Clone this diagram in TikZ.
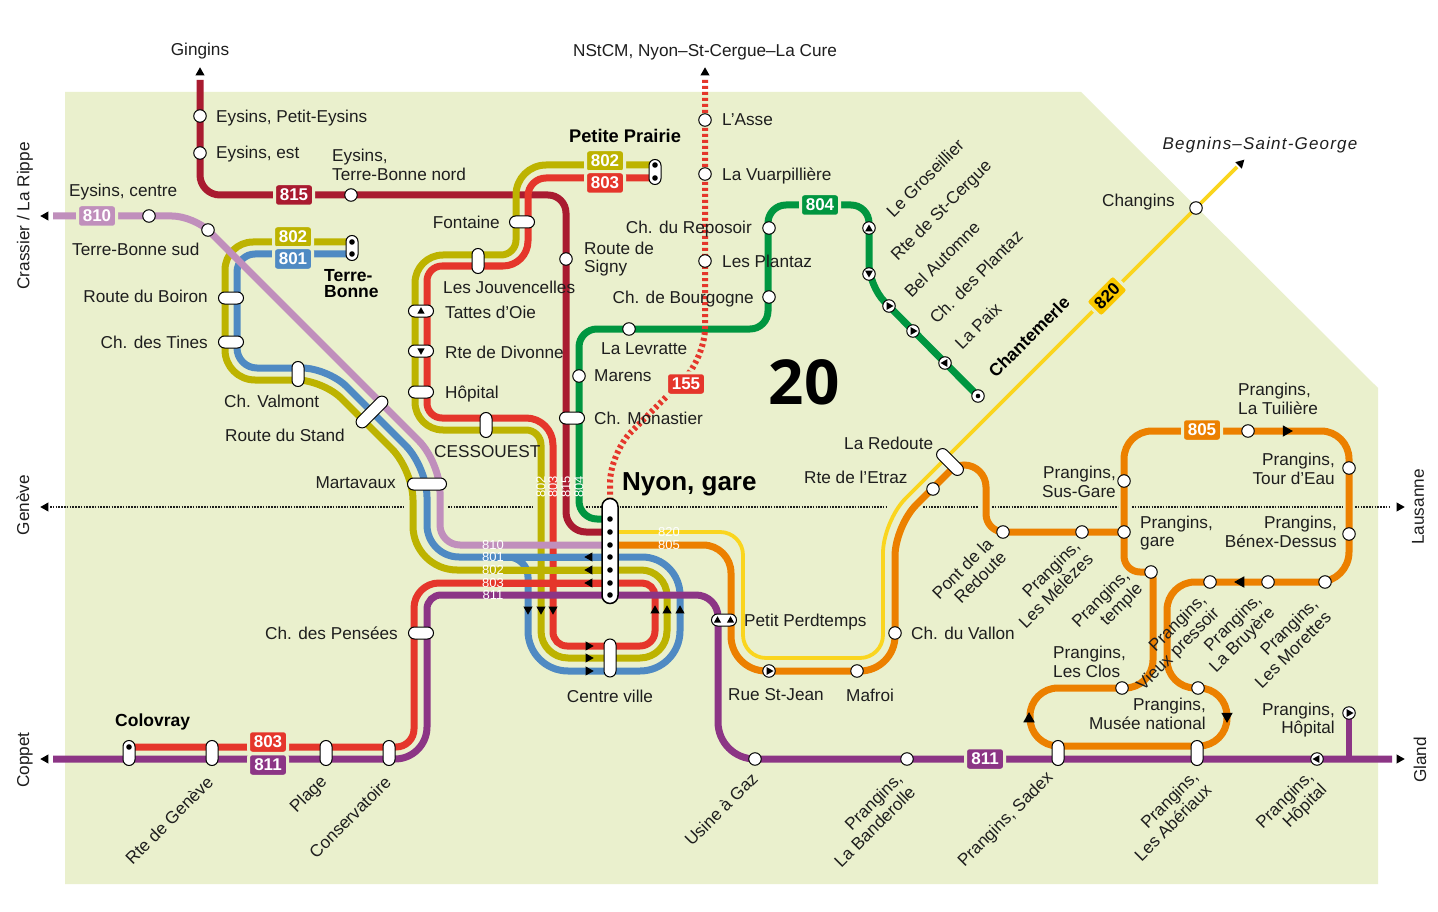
\documentclass[tikz,border=0pt]{standalone}
\usepackage{fontspec}
\setmainfont{Liberation Sans}
\newfontfamily\bignum{Open Sans}
\usepackage{tikz}
\usetikzlibrary{shapes.misc}

\definecolor{bggreen}{RGB}{234,240,205}
\definecolor{c810}{RGB}{192,143,188}
\definecolor{c801}{RGB}{79,138,195}
\definecolor{c802}{RGB}{189,179,0}
\definecolor{c803}{RGB}{229,54,43}
\definecolor{c811}{RGB}{140,53,133}
\definecolor{c815}{RGB}{169,27,48}
\definecolor{c804}{RGB}{0,150,64}
\definecolor{c805}{RGB}{236,128,0}
\definecolor{c820}{RGB}{250,213,30}
\definecolor{c820b}{RGB}{250,200,0}
\definecolor{inkc}{RGB}{30,30,30}

\tikzset{
  bus/.style={line width=7pt},
  stop/.style={circle,draw=black,fill=white,line width=1pt,inner sep=0pt,minimum size=12.5pt},
  pill/.style={rounded rectangle,draw=black,fill=white,line width=1pt,inner sep=0pt,minimum height=12pt,minimum width=#1},
  badge/.style={fill=#1,draw=bggreen,line width=3pt,rounded corners=3.5pt,text=white,inner sep=0pt,
    minimum width=39pt,minimum height=22.5pt,font=\fontsize{17}{19}\selectfont\bfseries},
  mini/.style={text=white,inner sep=0pt,font=\fontsize{13}{13}\selectfont},
  lab/.style={inner sep=0pt,text=inkc,font=\fontsize{17.2}{18.8}\selectfont},
  blab/.style={inner sep=0pt,text=black,font=\fontsize{17.5}{16}\selectfont\bfseries},
  diag/.style={lab,rotate=45,align=right},
  dotted line/.style={line width=1.6pt,dash pattern=on 1.6pt off 1.2pt,draw=inkc}
}

% small black triangle, 0 points up
\newcommand{\tip}[4][1]{\fill[black,shift={(#2,#3)},rotate=#4,scale=#1] (0,-4.7) -- (-4.6,3.4) -- (4.6,3.4) -- cycle;}
\newcommand{\dotat}[2]{\fill[black] (#1,#2) circle (2.8pt);}

\begin{document}
\begin{tikzpicture}[x=1pt,y=-1pt]
\useasboundingbox (0,0) rectangle (1438,912);
\fill[white] (0,0) rectangle (1438,912);
\fill[bggreen] (65,92) -- (1081,92) -- (1378,388) -- (1378,884) -- (65,884) -- cycle;

%dotted middle line
\draw[dotted line] (50,507) -- (405,507);
\draw[dotted line] (448,507) -- (533,507);
\draw[dotted line] (586,507) -- (888,507);
\draw[dotted line] (923,507) -- (978,507);
\draw[dotted line] (992,507) -- (1118,507);
\draw[dotted line] (1132,507) -- (1343,507);
\draw[dotted line] (1355,507) -- (1391,507);

%line 815
\draw[bus,c815] (200,80) [rounded corners=20pt] -- (200,195) [rounded corners=18pt] -- (566,195) [rounded corners=20pt] -- (566,532) -- (610,532);

%line 804
\draw[bus,c804] (610,519) [rounded corners=18pt] -- (579,519) -- (579,329) -- (768,329) -- (768,205) -- (869,205) [rounded corners=22pt] -- (869,286) -- (978,396);

%line 155
\draw[c803,line width=6pt,dash pattern=on 3pt off 3pt] (705,80) [rounded corners=30pt] -- (705,358) -- (610,453) -- (610,500);

%line 820
\draw[c820,line width=3.8pt] (610,532) [rounded corners=23pt] -- (743,532) -- (743,658) -- (883,658) [rounded corners=32pt] -- (883,521) -- (1237,167);

%line 805
\draw[bus,c805] (610,545) [rounded corners=28pt] -- (731,545) [rounded corners=35pt] -- (731,671) -- (895,671) [rounded corners=30pt] -- (895,526) [rounded corners=8pt] -- (956,465) [rounded corners=22pt] -- (986,465) [rounded corners=18pt] -- (986,532) -- (1124,532);
\draw[bus,c805] (1124,532) [rounded corners=28pt] -- (1124,431) -- (1349,431) [rounded corners=30pt] -- (1349,582) [rounded corners=28pt] -- (1167,582) -- (1167,688) -- (1227,688) -- (1227,746) -- (1030,746) -- (1030,688) -- (1153,688) [rounded corners=6pt] -- (1153,572) [rounded corners=16pt] -- (1124,572) -- (1124,532);

%line 802
\draw[bus,c802] (655,165) [rounded corners=30pt] -- (516,165) [rounded corners=15pt] -- (516,255) [rounded corners=28pt] -- (415,255) -- (415,430) [rounded corners=15pt] -- (541,430) [rounded corners=27pt] -- (541,658) -- (667,658) [rounded corners=26pt] -- (667,570) [rounded corners=44pt] -- (413,570) [rounded corners=30pt] -- (413,470) [rounded corners=26pt] -- (323,380) [rounded corners=30pt] -- (225,380) [rounded corners=28pt] -- (225,242) -- (352,242);

%line 801
\draw[bus,c801] (352,254) [rounded corners=18pt] -- (237,254) [rounded corners=20pt] -- (237,368) [rounded corners=26pt] -- (328,368) [rounded corners=30pt] -- (427,467) [rounded corners=32pt] -- (427,557) [rounded corners=38pt] -- (680,557) [rounded corners=40pt] -- (680,671) -- (528,671) [rounded corners=20pt] -- (528,557) -- (495,557);

%line 803
\draw[bus,c803] (655,178) [rounded corners=18pt] -- (528,178) [rounded corners=25pt] -- (528,266) [rounded corners=15pt] -- (427,266) -- (427,418) [rounded corners=27pt] -- (553,418) [rounded corners=14pt] -- (553,646) [rounded corners=15pt] -- (655,646) [rounded corners=13pt] -- (655,583) [rounded corners=25pt] -- (414,583) [rounded corners=18pt] -- (414,747) -- (129,747);

%line 810
\draw[bus,c810] (53,216) [rounded corners=22pt] -- (194,216) [rounded corners=30pt] -- (440,462) [rounded corners=20pt] -- (440,545) -- (610,545);

%horizontals again, they lie over the verticals
\draw[bus,c801] (490,557) -- (610,557);
\draw[bus,c802] (490,570) -- (610,570);
\draw[bus,c803] (490,583) -- (610,583);

%line 811
\draw[bus,c811] (53,759) [rounded corners=32pt] -- (427,759) [rounded corners=14pt] -- (427,595) [rounded corners=22pt] -- (718,595) [rounded corners=37pt] -- (718,759) -- (1392,759);
\draw[line width=6pt,c811] (1349,759) -- (1349,713);

%arrows at the ends
\tip{200}{72}{0}
\tip{705}{72}{0}
\tip{45}{216}{90}
\tip{45}{759}{90}
\tip{45}{507}{90}
\tip{1400}{507}{-90}
\tip{1400}{759}{-90}
\tip{1241}{163}{-45}

%arrows on the lines
\tip{589}{557}{90}
\tip{589}{570}{90}
\tip{589}{583}{90}
\tip{528}{610}{180}
\tip{541}{610}{180}
\tip{553}{610}{180}
\tip{655}{610}{0}
\tip{667}{610}{0}
\tip{680}{610}{0}
\tip{589}{646}{-90}
\tip{589}{658}{-90}
\tip{589}{671}{-90}
\tip[1.25]{1287}{431}{-90}
\tip[1.25]{1240}{582}{90}
\tip[1.25]{1029}{718}{0}
\tip[1.25]{1227}{717}{180}

%plain stops
\node[stop] (petiteysins) at (200,116) {};
\node[stop] (eysinsest) at (200,153) {};
\node[stop] (eysinsnord) at (351,195) {};
\node[stop] (eysinscentre) at (149,216) {};
\node[stop] (bonnesud) at (208,230) {};
\node[stop] (signy) at (566,259) {};
\node[stop] (asse) at (705,120) {};
\node[stop] (vuarpilliere) at (705,174) {};
\node[stop] (reposoir) at (769,228) {};
\node[stop] (plantaz) at (705,261) {};
\node[stop] (bourgogne) at (769,297) {};
\node[stop] (levratte) at (629,329) {};
\node[stop] (marens) at (579,376) {};
\node[stop] (changins) at (1196,208) {};
\node[stop] (etraz) at (933,489) {};
\node[stop] (pontredoute) at (1003,532) {};
\node[stop] (melezes) at (1082,532) {};
\node[stop] (susgare) at (1124,481) {};
\node[stop] (pranginsgare) at (1124,532) {};
\node[stop] (toureau) at (1349,468) {};
\node[stop] (benex) at (1349,534) {};
\node[stop] (tuiliere) at (1248,431) {};
\node[stop] (temple) at (1151,572) {};
\node[stop] (pressoir) at (1210,582) {};
\node[stop] (bruyere) at (1268,582) {};
\node[stop] (morettes) at (1325,582) {};
\node[stop] (clos) at (1122,688) {};
\node[stop] (musee) at (1198,688) {};
\node[stop] (mafroi) at (857,671) {};
\node[stop] (vallon) at (895,633) {};
\node[stop] (gaz) at (755,759) {};
\node[stop] (banderolle) at (907,759) {};

%stops with an arrow
\node[stop] (groseillier) at (869,228) {};
\tip[0.85]{869}{228.5}{0}
\node[stop] (stcergue) at (869,274) {};
\tip[0.85]{869}{273.5}{180}
\node[stop] (belautomne) at (889,306) {};
\tip[0.85]{889.5}{306}{-90}
\node[stop] (chplantaz) at (913,331) {};
\tip[0.85]{913.5}{331}{-90}
\node[stop] (lapaix) at (945,363) {};
\tip[0.85]{944.5}{363}{90}
\node[stop] (stjean) at (769,671) {};
\tip[0.85]{769.5}{671}{-90}
\node[stop] (hopitala) at (1317,759) {};
\tip[0.85]{1316.5}{759}{90}
\node[stop] (hopitalb) at (1349,713) {};
\tip[0.85]{1349.5}{713}{-90}
\node[stop] (chantemerle) at (978,396) {};
\fill[black] (978,396) circle (2.3pt);

%pills, horizontal
\node[pill=25pt] (boiron) at (231,298) {};
\node[pill=25pt] (tines) at (231,342) {};
\node[pill=25pt] (fontaine) at (522,222) {};
\node[pill=25pt] (tattes) at (421,311) {};
\tip[0.8]{421}{311}{0}
\node[pill=25pt] (divonne) at (421,351) {};
\tip[0.8]{421}{351}{180}
\node[pill=25pt] (hopital) at (421,392) {};
\node[pill=25pt] (monastier) at (572,418) {};
\node[pill=39pt] (martavaux) at (427,484) {};
\node[pill=25pt] (pensees) at (421,633) {};
\node[pill=25pt] (perdtemps) at (724,620) {};
\tip[0.8]{717.5}{620}{0}
\tip[0.8]{730.5}{620}{0}

%pills, vertical and slanted
\node[pill=25pt,rotate=90] (valmont) at (298,374) {};
\node[pill=25pt,rotate=90] (jouvencelles) at (478,261) {};
\node[pill=25pt,rotate=90] (cessouest) at (486,425) {};
\node[pill=25pt,rotate=90] (colovray) at (129,753) {};
\dotat{129}{747}
\node[pill=25pt,rotate=90] (rtegeneve) at (212,753) {};
\node[pill=25pt,rotate=90] (plage) at (326,753) {};
\node[pill=25pt,rotate=90] (conservatoire) at (389,753) {};
\node[pill=25pt,rotate=90] (sadex) at (1058,753) {};
\node[pill=25pt,rotate=90] (aberiaux) at (1197,753) {};
\node[pill=38pt,rotate=90] (centreville) at (610,658) {};
\node[pill=40pt,rotate=45] (stand) at (372,412) {};
\node[pill=33pt,rotate=-45] (laredoute) at (950,462) {};

%terminus pills with dots
\node[pill=25pt,rotate=90] (terrebonne) at (352,248) {};
\dotat{352}{242}
\dotat{352}{254}
\node[pill=25pt,rotate=90] (petiteprairie) at (655,172) {};
\dotat{655}{165}
\dotat{655}{178}
\node[pill=105pt,minimum height=16pt,line width=1.5pt,rotate=90] (nyongare) at (610,551) {};
\dotat{610}{519}
\dotat{610}{532}
\dotat{610}{545}
\dotat{610}{557}
\dotat{610}{570}
\dotat{610}{583}
\dotat{610}{595}

%line numbers
\node[badge=c815] (n815) at (294,195) {815};
\node[badge=c810] (n810) at (97,216) {810};
\node[badge=c802] (n802a) at (293,237) {802};
\node[badge=c801] (n801) at (293,259) {801};
\node[badge=c802] (n802b) at (605,161) {802};
\node[badge=c803] (n803a) at (605,183) {803};
\node[badge=c804] (n804) at (820,205) {804};
\node[badge=c805] (n805) at (1202,430) {805};
\node[badge=c811] (n811a) at (985,759) {811};
\node[badge=c803] (n803b) at (268,742) {803};
\node[badge=c811] (n811b) at (268,765) {811};
\node[badge=c803] (n155) at (686,384) {155};
\node[badge=c820b,text=black,rotate=45] (n820) at (1107,296) {820};

%small numbers on the lines
\node[mini] (m810) at (493,545) {810};
\node[mini] (m801) at (493,557) {801};
\node[mini] (m802) at (493,570) {802};
\node[mini] (m803) at (493,583) {803};
\node[mini] (m811) at (493,595) {811};
\node[mini] (m820) at (669,532) {820};
\node[mini] (m805) at (669,545) {805};
\node[mini,rotate=90] (v802) at (541,487) {802};
\node[mini,rotate=90] (v803) at (553,487) {803};
\node[mini,rotate=90] (v815) at (566,487) {815};
\node[mini,rotate=90] (v804) at (579,487) {804};

%outside the area
\node[lab] (tgingins) at (200,51) {Gingins};
\node[lab] (tnstcm) at (705,52) {NStCM, Nyon–St-Cergue–La Cure};
\node[lab,font=\fontsize{17}{19}\selectfont\itshape\addfontfeature{LetterSpace=7}] (tbegnins) at (1260,145) {Begnins–Saint-George};
\node[lab,rotate=90] (trippe) at (25,216) {Crassier / La Rippe};
\node[lab,rotate=90] (tgeneve) at (23,505) {Genève};
\node[lab,rotate=90] (tcoppet) at (25,760) {Coppet};
\node[lab,rotate=90] (tlausanne) at (1418,507) {Lausanne};
\node[lab,rotate=90] (tgland) at (1420,760) {Gland};

%west part
\node[lab,anchor=west] (tpetiteysins) at (216,118) {Eysins, Petit-Eysins};
\node[lab,anchor=west] (teysinsest) at (216,154.5) {Eysins, est};
\node[lab,anchor=west,align=left] (teysinsnord) at (332,165) {Eysins,\\Terre-Bonne nord};
\node[lab,anchor=west] (teysinscentre) at (69,192) {Eysins, centre};
\node[lab,anchor=west] (tbonnesud) at (72,249) {Terre-Bonne sud};
\node[lab,anchor=east] (tboiron) at (208,296) {Route du Boiron};
\node[lab,anchor=east] (ttines) at (208,342) {Ch. des Tines};
\node[blab,anchor=west,align=left] (tterrebonne) at (324,284) {Terre-\\Bonne};
\node[lab,anchor=west] (tvalmont) at (224,401) {Ch. Valmont};
\node[lab,anchor=west] (tstand) at (225,435) {Route du Stand};
\node[lab,anchor=east] (tmartavaux) at (396,483) {Martavaux};
\node[lab,anchor=east] (tpensees) at (398,633) {Ch. des Pensées};
\node[blab,anchor=west] (tcolovray) at (115,722) {Colovray};
\node[lab,rotate=45] (trtegeneve) at (169,820) {Rte de Genève};
\node[lab,rotate=45] (tplage) at (309,795) {Plage};
\node[lab,rotate=45] (tconservatoire) at (350,817) {Conservatoire};

%middle part
\node[blab,font=\fontsize{18.3}{19}\selectfont\bfseries] (tpetiteprairie) at (625,136) {Petite Prairie};
\node[lab,anchor=east] (tfontaine) at (500,222) {Fontaine};
\node[lab,anchor=west] (tjouvencelles) at (443,287) {Les Jouvencelles};
\node[lab,anchor=west] (ttattes) at (445,312) {Tattes d’Oie};
\node[lab,anchor=west] (tdivonne) at (445,352) {Rte de Divonne};
\node[lab,anchor=west] (thopital) at (445,394) {Hôpital};
\node[lab,anchor=west] (tcessouest) at (434,452) {CESSOUEST};
\node[lab,anchor=west,align=left] (tsigny) at (584,259) {Route de\\Signy};
\node[lab,anchor=west] (tasse) at (722,120) {L’Asse};
\node[lab,anchor=west] (tvuarpilliere) at (722,176) {La Vuarpillière};
\node[lab,anchor=east] (treposoir) at (752,229) {Ch. du Reposoir};
\node[lab,anchor=west] (tplantaz) at (722,261) {Les Plantaz};
\node[lab,anchor=east] (tbourgogne) at (754,299) {Ch. de Bourgogne};
\node[lab,anchor=west] (tlevratte) at (601,349) {La Levratte};
\node[lab,anchor=west] (tmarens) at (594,376) {Marens};
\node[lab,anchor=west] (tmonastier) at (594,418) {Ch. Monastier};
\node[blab,anchor=west,font=\fontsize{26}{28}\selectfont\bfseries] (tnyon) at (622,484) {Nyon, gare};
\node[inner sep=0pt,text=black,font=\fontsize{62}{64}\selectfont\bignum\bfseries] (tzone) at (804,382) {20};
\node[lab,anchor=west] (tperdtemps) at (744,622) {Petit Perdtemps};
\node[lab] (tcentreville) at (610,696) {Centre ville};
\node[lab,anchor=west] (tstjean) at (728,695) {Rue St-Jean};
\node[lab,anchor=west] (tmafroi) at (846,695) {Mafroi};

%Chantemerle branch
\node[lab,rotate=45] (tgroseillier) at (925,178) {Le Groseillier};
\node[lab,rotate=45] (tstcergue) at (942,211) {Rte de St-Cergue};
\node[lab,rotate=45] (tbelautomne) at (942,259) {Bel Automne};
\node[lab,rotate=45] (tchplantaz) at (976,277) {Ch. des Plantaz};
\node[lab,rotate=45] (tlapaix) at (978,326) {La Paix};
\node[blab,rotate=45] (tchantemerle) at (1029,337) {Chantemerle};
\node[lab,anchor=east] (tchangins) at (1175,202) {Changins};

%east part
\node[lab,anchor=west] (tredoute) at (844,443) {La Redoute};
\node[lab,anchor=west] (tetraz) at (804,477) {Rte de l’Etraz};
\node[lab,anchor=west] (tvallon) at (911,633) {Ch. du Vallon};
\node[diag] (tpont) at (969,575) {Pont de la\\Redoute};
\node[lab,anchor=east,align=right] (tsusgare) at (1116,482) {Prangins,\\Sus-Gare};
\node[lab,anchor=west,align=left] (tpranginsgare) at (1140,533) {Prangins,\\gare};
\node[lab,anchor=west,align=left] (ttuiliere) at (1238,399) {Prangins,\\La Tuilière};
\node[lab,anchor=east,align=right] (ttoureau) at (1335,469) {Prangins,\\Tour d’Eau};
\node[lab,anchor=east,align=right] (tbenex) at (1337,532) {Prangins,\\Bénex-Dessus};
\node[diag] (tmelezes) at (1049,584) {Prangins,\\Les Mélèzes};
\node[diag] (ttemple) at (1108,606) {Prangins,\\temple};
\node[diag] (tpressoir) at (1172,643) {Prangins,\\Vieux pressoir};
\node[diag] (tbruyere) at (1236,634) {Prangins,\\La Bruyère};
\node[diag] (tmorettes) at (1286,643) {Prangins,\\Les Morettes};
\node[lab,anchor=west,align=left] (tclos) at (1053,662) {Prangins,\\Les Clos};
\node[lab,anchor=east,align=right] (tmusee) at (1206,714) {Prangins,\\Musée national};
\node[lab,anchor=east,align=right] (thopitalb) at (1335,720) {Prangins,\\Hôpital};

%under line 811
\node[lab,rotate=45] (tgaz) at (721,809) {Usine à Gaz};
\node[diag] (tbanderolle) at (868,820) {Prangins,\\La Banderolle};
\node[lab,rotate=45] (tsadex) at (1006,820) {Prangins, Sadex};
\node[diag] (taberiaux) at (1166,816) {Prangins,\\Les Abériaux};
\node[diag] (thopitala) at (1292,807) {Prangins,\\Hôpital};

\end{tikzpicture}
\end{document}
